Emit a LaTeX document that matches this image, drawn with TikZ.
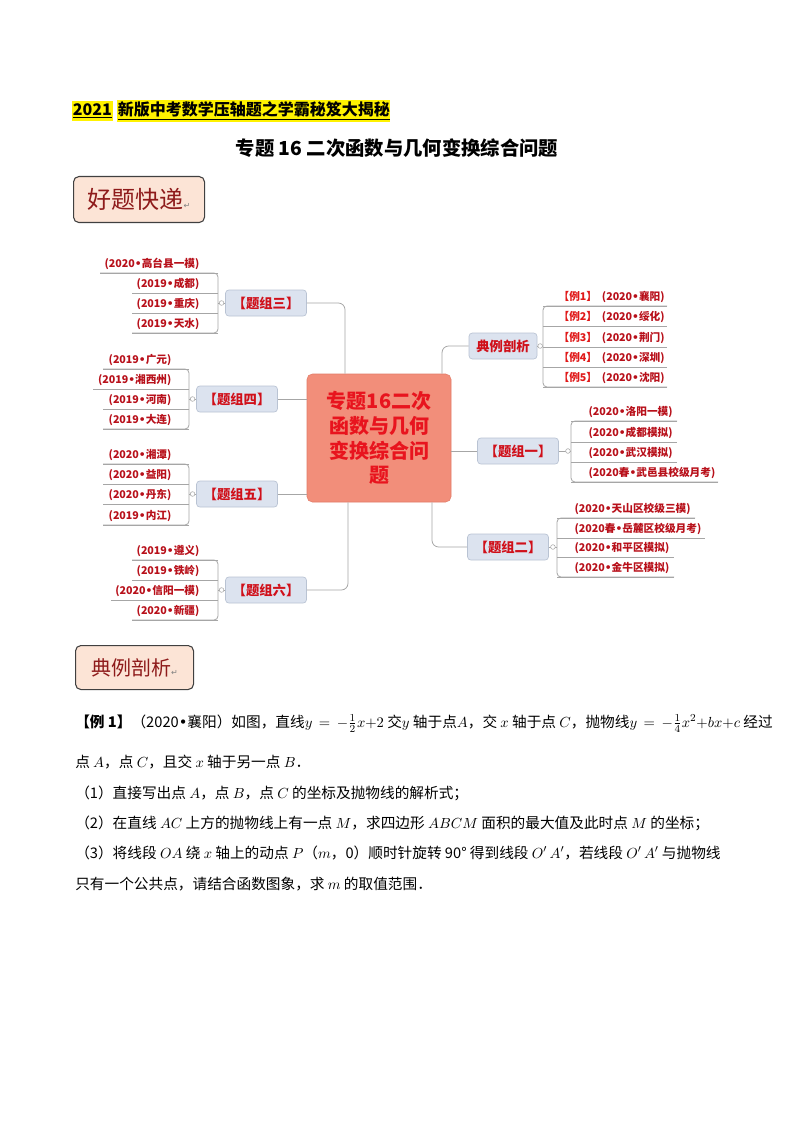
\documentclass[tikz,border=0pt]{standalone}
\usepackage[no-math]{fontspec}
\usepackage{amsmath}
\setmainfont{Noto Sans CJK SC}
\newfontfamily\symfont{DejaVu Sans}
\usetikzlibrary{calc}

\definecolor{hubfill}{HTML}{F28E7A}
\definecolor{hubline}{HTML}{E27B67}
\definecolor{hubtext}{HTML}{E8141E}
\definecolor{topicfill}{HTML}{DCE3EF}
\definecolor{topicline}{HTML}{B9C3D3}
\definecolor{topictext}{HTML}{D0101A}
\definecolor{leafred}{HTML}{B8101A}
\definecolor{exred}{HTML}{E01818}
\definecolor{linegray}{HTML}{A6A6A6}
\definecolor{peach}{HTML}{FCE4D6}
\definecolor{tagline}{HTML}{404040}
\definecolor{tagred}{HTML}{8E1B1B}

\newcommand{\parmark}{{\symfont\fontsize{6}{6}\selectfont\textcolor{gray}{↵}}}
\newcommand{\bul}{{\symfont •}}

\begin{document}
\begin{tikzpicture}[x=0.75pt,y=-0.75pt,
  hl/.style={fill=yellow,inner xsep=0.5pt,inner ysep=1.5pt,anchor=west,font=\fontsize{12}{14}\selectfont\bfseries},
  tagbox/.style={draw=tagline,fill=peach,rounded corners=4pt,line width=0.8pt,text=tagred,anchor=north west},
  hubbox/.style={draw=hubline,fill=hubfill,rounded corners=4pt,text=hubtext,align=center,
    font=\fontsize{15}{18.5}\selectfont\bfseries,minimum width=108pt,minimum height=96pt},
  topic/.style={draw=topicline,fill=topicfill,rounded corners=2.5pt,line width=0.5pt,text=topictext,
    font=\fontsize{10}{12}\selectfont\bfseries,minimum width=60.75pt,minimum height=19.5pt,inner sep=0pt},
  leaf/.style={text=leafred,font=\fontsize{8}{10}\selectfont\bfseries,inner sep=1pt},
  branch/.style={draw=linegray,line width=0.6pt},
  knob/.style={circle,draw=linegray,fill=white,line width=0.4pt,inner sep=0pt,minimum size=3.5pt},
  para/.style={anchor=base west,inner sep=0pt,font=\fontsize{11}{13}\selectfont}]

\fill[white] (0,0) rectangle (794,1123);
\useasboundingbox (0,0) rectangle (794,1123);

\node[hl] (year) at (72,111) {\underline{2021}};
\node[hl] (series) at ([xshift=3pt]year.east) {\underline{新版中考数学压轴题之学霸秘笈大揭秘}};
\node[font=\fontsize{14.5}{16}\selectfont\bfseries] (title) at (397,148) {专题 16 二次函数与几何变换综合问题};

\node[tagbox,minimum width=98.25pt,minimum height=34.5pt,font=\fontsize{18}{20}\selectfont] (hao) at (73,176) {好题快递\parmark};

\node[hubbox] (hub) at (379,438) {专题16二次\\函数与几何\\变换综合问\\题};

\node[topic,minimum width=51pt] (dlpx) at (503,346) {典例剖析};
\node[topic] (zu1) at (518,451) {【题组一】};
\node[topic] (zu2) at (508,547) {【题组二】};
\node[topic] (zu3) at (266,303) {【题组三】};
\node[topic] (zu4) at (237,399) {【题组四】};
\node[topic] (zu5) at (237,494) {【题组五】};
\node[topic] (zu6) at (266,590) {【题组六】};

\draw[branch,rounded corners=5pt] ($(hub.north)+(63,0)$) |- (dlpx.west);
\draw[branch] (hub.east |- zu1) -- (zu1.west);
\draw[branch,rounded corners=5pt] ($(hub.south)+(53,0)$) |- (zu2.west);
\draw[branch,rounded corners=5pt] ($(hub.north)+(-34,0)$) |- (zu3.east);
\draw[branch] (hub.west |- zu4) -- (zu4.east);
\draw[branch] (hub.west |- zu5) -- (zu5.east);
\draw[branch,rounded corners=5pt] ($(hub.south)+(-31,0)$) |- (zu6.east);

\foreach \t/\y [count=\i] in {襄阳/306,绥化/326,荆门/347,深圳/367,沈阳/387}{
  \coordinate (exa\i) at (543,\y);
  \coordinate (exb\i) at (667,\y);
  \node[leaf,anchor=west] (ex\i) at (557,\y-9) {\textcolor{exred}{【例\i】}\ \ (2020\bul\t)};
  \draw[branch] (exa\i) -- (exb\i);
}
\draw[branch,rounded corners=3pt] (exb1) -- (exa1) -- (exa5) -- (exb5);
\draw[branch] (dlpx.east) -- (dlpx.east -| exa1) node[knob,pos=0.5] (kn0) {};

\foreach \t/\y/\e [count=\i] in {{(2020\bul 洛阳一模)}/421/677,{(2020\bul 成都模拟)}/442/677,{(2020\bul 武汉模拟)}/462/677,{(2020春\bul 武邑县校级月考)}/482/718}{
  \coordinate (ga\i) at (571,\y);
  \coordinate (gb\i) at (\e,\y);
  \node[leaf,anchor=west] (g\i) at (587,\y-9) {\t};
  \draw[branch] (ga\i) -- (gb\i);
}
\draw[branch,rounded corners=3pt] (gb1) -- (ga1) -- (ga4) -- (gb4);
\draw[branch] (zu1.east) -- (zu1.east -| ga1) node[knob,pos=0.75] (kn1) {};

\foreach \t/\y/\e [count=\i] in {{(2020\bul 天山区校级三模)}/518/695,{(2020春\bul 岳麓区校级月考)}/538/705,{(2020\bul 和平区模拟)}/557/674,{(2020\bul 金牛区模拟)}/577/674}{
  \coordinate (ha\i) at (557,\y);
  \coordinate (hb\i) at (\e,\y);
  \node[leaf,anchor=west] (h\i) at (573,\y-9) {\t};
  \draw[branch] (ha\i) -- (hb\i);
}
\draw[branch,rounded corners=3pt] (hb1) -- (ha1) -- (ha4) -- (hb4);
\draw[branch] (zu2.east) -- (zu2.east -| ha1) node[knob,pos=0.5] (kn2) {};

\foreach \t/\y/\e [count=\i] in {{(2020\bul 高台县一模)}/273/100,{(2019\bul 成都)}/293/132,{(2019\bul 重庆)}/313/132,{(2019\bul 天水)}/333/132}{
  \coordinate (ja\i) at (218,\y);
  \coordinate (jb\i) at (\e,\y);
  \node[leaf,anchor=east] (j\i) at (201,\y-9) {\t};
  \draw[branch] (ja\i) -- (jb\i);
}
\draw[branch,rounded corners=3pt] (jb1) -- (ja1) -- (ja4) -- (jb4);
\draw[branch] (zu3.west) -- (zu3.west -| ja1) node[knob,pos=0.5] (kn3) {};

\foreach \t/\y/\e [count=\i] in {{(2019\bul 广元)}/369/103,{(2019\bul 湘西州)}/389/93,{(2019\bul 河南)}/409/103,{(2019\bul 大连)}/429/103}{
  \coordinate (ka\i) at (189,\y);
  \coordinate (kb\i) at (\e,\y);
  \node[leaf,anchor=east] (k\i) at (173,\y-9) {\t};
  \draw[branch] (ka\i) -- (kb\i);
}
\draw[branch,rounded corners=3pt] (kb1) -- (ka1) -- (ka4) -- (kb4);
\draw[branch] (zu4.west) -- (zu4.west -| ka1) node[knob,pos=0.5] (kn4) {};

\foreach \t/\y/\e [count=\i] in {{(2020\bul 湘潭)}/464/103,{(2020\bul 益阳)}/484/103,{(2020\bul 丹东)}/504/103,{(2019\bul 内江)}/525/103}{
  \coordinate (ma\i) at (189,\y);
  \coordinate (mb\i) at (\e,\y);
  \node[leaf,anchor=east] (m\i) at (173,\y-9) {\t};
  \draw[branch] (ma\i) -- (mb\i);
}
\draw[branch,rounded corners=3pt] (mb1) -- (ma1) -- (ma4) -- (mb4);
\draw[branch] (zu5.west) -- (zu5.west -| ma1) node[knob,pos=0.5] (kn5) {};

\foreach \t/\y/\e [count=\i] in {{(2019\bul 遵义)}/560/132,{(2019\bul 铁岭)}/580/132,{(2020\bul 信阳一模)}/600/111,{(2020\bul 新疆)}/620/132}{
  \coordinate (na\i) at (218,\y);
  \coordinate (nb\i) at (\e,\y);
  \node[leaf,anchor=east] (n\i) at (201,\y-9) {\t};
  \draw[branch] (na\i) -- (nb\i);
}
\draw[branch,rounded corners=3pt] (nb1) -- (na1) -- (na4) -- (nb4);
\draw[branch] (zu6.west) -- (zu6.west -| na1) node[knob,pos=0.5] (kn6) {};

\node[tagbox,minimum width=88.5pt,minimum height=33pt,font=\fontsize{15}{17}\selectfont] (dianli) at (75,645) {典例剖析\parmark};

\node[para] (p1) at (75,727) {{\bfseries 【例 1】}（2020\bul 襄阳）如图，直线$y\,=\,-\frac{1}{2}x{+}2$ 交$y$ 轴于点$A$，交 $x$ 轴于点 $C$，抛物线$y\,=\,-\frac{1}{4}x^2{+}bx{+}c$ 经过};
\node[para] (p2) at (75,767) {点 $A$，点 $C$，且交 $x$ 轴于另一点 $B$．};
\node[para] (p3) at (75,798) {（1）直接写出点 $A$，点 $B$，点 $C$ 的坐标及抛物线的解析式；};
\node[para] (p4) at (75,828) {（2）在直线 $AC$ 上方的抛物线上有一点 $M$，求四边形 $ABCM$ 面积的最大值及此时点 $M$ 的坐标；};
\node[para] (p5) at (75,858) {（3）将线段 $OA$ 绕 $x$ 轴上的动点 $P$（$m$，0）顺时针旋转 90° 得到线段 $O'\,A'$，若线段 $O'\,A'$ 与抛物线};
\node[para] (p6) at (75,889) {只有一个公共点，请结合函数图象，求 $m$ 的取值范围．};
\end{tikzpicture}
\end{document}
